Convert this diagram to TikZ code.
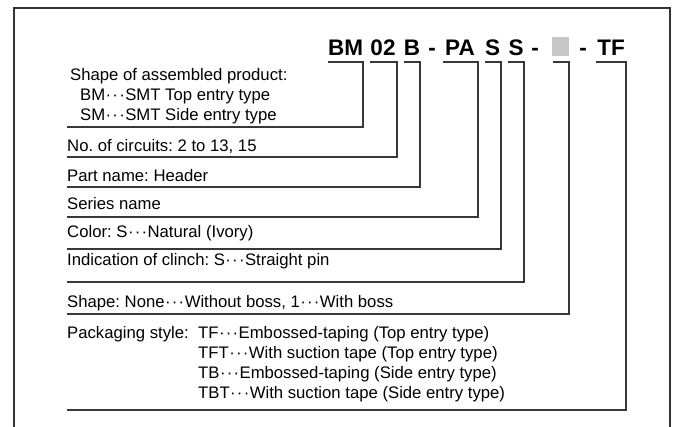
\documentclass[tikz,border=0pt]{standalone}
\usepackage{fontspec}
\setmainfont{Liberation Sans}
\frenchspacing
\newcommand{\mydots}{\kern0.5pt·\kern1.2pt·\kern1.2pt·\kern0.5pt}
\begin{document}
\begin{tikzpicture}[x=1pt,y=-1pt,
  frame/.style={draw=black!80,line width=1.1pt},
  brk/.style={draw=black!78,line width=1.1pt},
  code/.style={font=\fontsize{22.5}{22.5}\selectfont\bfseries,anchor=base,inner sep=0pt},
  lbl/.style={font=\fontsize{16.7}{16.7}\selectfont,anchor=base west,inner sep=0pt},
  graybox/.style={fill=black!22,draw=none}]
\useasboundingbox (0,0) rectangle (675,427);
\draw[frame] (14,427) -- (14,8) -- (670,8) -- (670,427);
% code letters
\node[code] (cBM) at (345.5,56) {BM};
\node[code] (c02) at (383,56) {02};
\node[code] (cB) at (412,56) {B};
\node[code] (d1) at (432,56) {-};
\node[code] (cPA) at (460,56) {PA};
\node[code] (cS1) at (492.5,56) {S};
\node[code] (cS2) at (516,56) {S};
\node[code] (d2) at (535,56) {-};
\path[graybox] (552,37) rectangle (569,56);
\node[inner sep=0pt,minimum width=17pt,minimum height=19pt] (cBox) at (560.5,46.5) {};
\node[code] (d3) at (583,56) {-};
\node[code] (cTF) at (611,56) {TF};
% labels
\node[lbl] (t1) at (70,81) {Shape of assembled product:};
\node[lbl] (t1b) at (80,101) {BM\mydots SMT Top entry type};
\node[lbl] (t1c) at (80,121) {SM\mydots SMT Side entry type};
\node[lbl] (t2) at (67,152) {No. of circuits: 2 to 13, 15};
\node[lbl] (t3) at (67,182) {Part name: Header};
\node[lbl] (t4) at (67,210) {Series name};
\node[lbl] (t5) at (67,238) {Color: S\mydots Natural (Ivory)};
\node[lbl] (t6) at (67,266) {Indication of clinch: S\mydots Straight pin};
\node[lbl] (t7) at (67,308) {Shape: None\mydots Without boss, 1\mydots With boss};
\node[lbl] (t8) at (67,339) {Packaging style:};
\node[lbl] (t8a) at (198,339) {TF\mydots Embossed-taping (Top entry type)};
\node[lbl] (t8b) at (198,359) {TFT\mydots With suction tape (Top entry type)};
\node[lbl] (t8c) at (198,379) {TB\mydots Embossed-taping (Side entry type)};
\node[lbl] (t8d) at (198,399) {TBT\mydots With suction tape (Side entry type)};
% bracket end points
\coordinate (e1) at (67,127);
\coordinate (e2) at (67,157);
\coordinate (e3) at (67,187);
\coordinate (e4) at (67,217);
\coordinate (e5) at (67,249);
\coordinate (e6) at (67,282);
\coordinate (e7) at (67,314);
\coordinate (e8) at (67,410);
\draw[brk] (328,62) -- (363,62) |- (e1);
\draw[brk] (370,62) -- (397,62) |- (e2);
\draw[brk] (404,62) -- (420,62) |- (e3);
\draw[brk] (443,62) -- (478,62) |- (e4);
\draw[brk] (485,62) -- (501,62) |- (e5);
\draw[brk] (508,62) -- (524,62) |- (e6);
\draw[brk] (553,62) -- (569,62) |- (e7);
\draw[brk] (596,62) -- (626,62) |- (e8);
\end{tikzpicture}
\end{document}
